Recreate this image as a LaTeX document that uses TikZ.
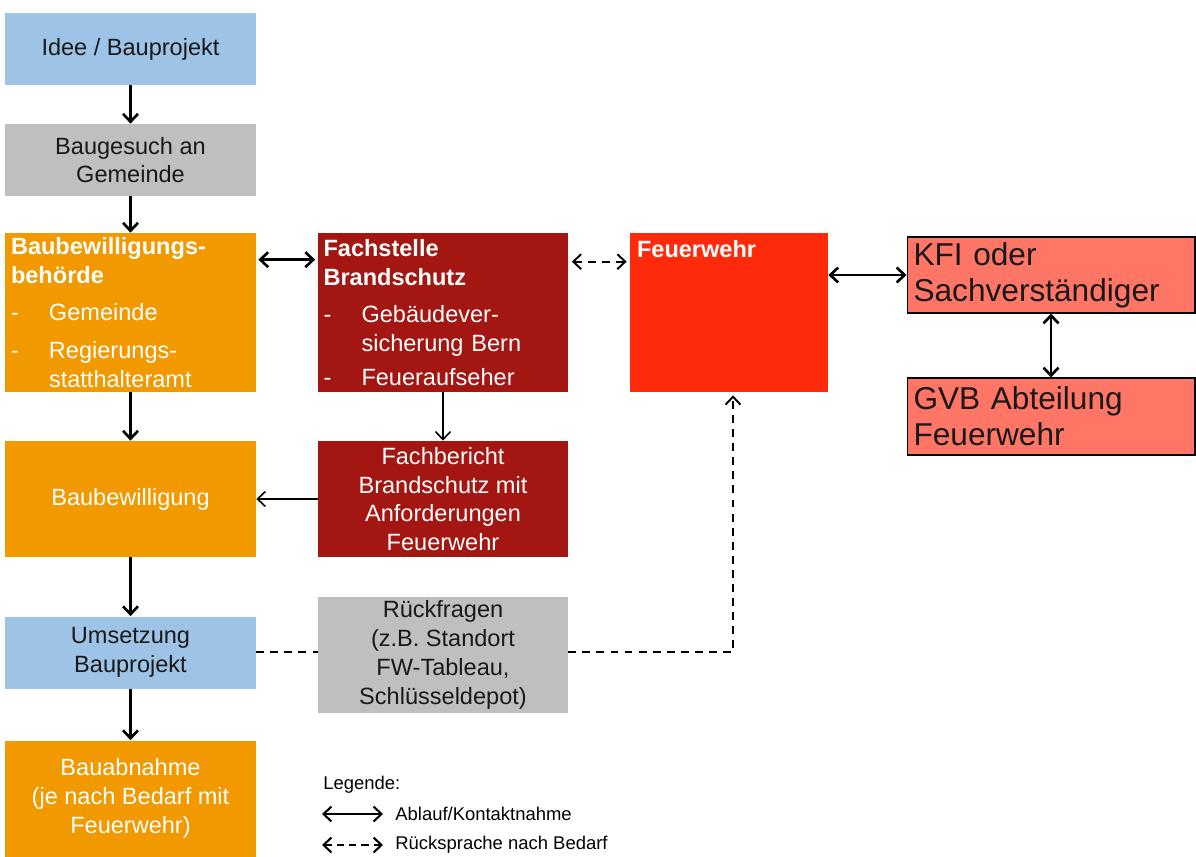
\documentclass[tikz,border=0pt]{standalone}
\usepackage{fontspec}
\setmainfont{Liberation Sans}
\usetikzlibrary{arrows.meta,calc}
\definecolor{hellblau}{HTML}{9DC3E6}
\definecolor{hellgrau}{HTML}{BFBFBF}
\definecolor{orangebox}{HTML}{F29900}
\definecolor{dunkelrot}{HTML}{A31612}
\definecolor{feuerrot}{HTML}{FF2A0C}
\definecolor{lachs}{HTML}{FF7566}
\newcommand{\strich}[1]{\makebox[0.76cm][l]{-}#1}
\begin{document}
\begin{tikzpicture}
      [x=0.02cm, y=-0.02cm,
      >={Straight Barb[length=4.5pt,width=8.5pt]},
      box/.style={rectangle, inner sep=0pt, align=center, text=black!90,
        font=\fontsize{13.4}{16.4}\selectfont},
      weiss/.style={text=white},
      liste/.style={align=left, text width=4.78cm, inner xsep=0.12cm},
      colA/.style={minimum width=5.02cm},
      colB/.style={minimum width=5cm},
      flat/.style={minimum height=1.44cm},
      tall/.style={minimum height=2.32cm},
      block/.style={minimum height=3.18cm},
      gross/.style={box, fill=lachs, draw=black, line width=0.6pt, align=left,
        minimum width=5.76cm, text width=5.5cm, font=\fontsize{18}{20.6}\selectfont},
      flow/.style={line width=1.5pt},
      duenn/.style={line width=0.9pt},
      rueck/.style={line width=1.1pt, dash pattern=on 4.5pt off 3.5pt},
      legende/.style={font=\fontsize{10.5}{12.5}\selectfont, anchor=west, inner sep=0pt},
      ]
      \useasboundingbox (0,0) rectangle (1196,856);
      % linke Spalte
      \node[box, colA, flat, fill=hellblau] (idee) at (130.5,49) {Idee / Bauprojekt};
      \node[box, colA, flat, fill=hellgrau] (gesuch) at (130.5,160) {Baugesuch an\\Gemeinde};
      \node[box, colA, block, fill=orangebox, weiss, liste] (behoerde) at (130.5,312.5)
        {\textbf{Baubewilligungs-}\\\textbf{behörde}\\[5pt]
         \strich{Gemeinde}\\[5pt]
         \strich{Regierungs-}\\\hspace*{0.76cm}statthalteramt};
      \node[box, colA, tall, fill=orangebox, weiss] (bewilligung) at (130.5,499) {Baubewilligung};
      \node[box, colA, flat, fill=hellblau] (umsetzung) at (130.5,652.5) {Umsetzung\\Bauprojekt};
      \node[box, colA, tall, fill=orangebox, weiss] (abnahme) at (130.5,798.5)
        {Bauabnahme\\(je nach Bedarf mit\\Feuerwehr)};
      % mittlere Spalte
      \node[box, colB, block, fill=dunkelrot, weiss, liste] (fachstelle) at (443,312.5)
        {\textbf{Fachstelle}\\\textbf{Brandschutz}\\[5pt]
         \strich{Gebäudever-}\\\hspace*{0.76cm}sicherung Bern\\[3pt]
         \strich{Feueraufseher}};
      \node[box, colB, tall, fill=dunkelrot, weiss] (fachbericht) at (443,499)
        {Fachbericht\\Brandschutz mit\\Anforderungen\\Feuerwehr};
      \node[box, colB, tall, fill=hellgrau] (rueckfragen) at (443,655)
        {Rückfragen\\(z.B. Standort\\FW-Tableau,\\Schlüsseldepot)};
      % Feuerwehr
      \node[box, minimum width=3.96cm, block, fill=feuerrot,
        label={[anchor=north west, inner sep=0pt, text=white,
          font=\fontsize{13.4}{16.4}\selectfont\bfseries, xshift=0.14cm, yshift=-0.14cm]north west:Feuerwehr}]
        (feuerwehr) at (729,312.5) {};
      \node[gross, minimum height=1.52cm] (kfi) at (1051,275) {KFI oder\\Sachverständiger};
      \node[gross, minimum height=1.54cm] (gvb) at (1051,416.5) {GVB Abteilung\\Feuerwehr};
      % Ablauf
      \draw[flow,->] (idee) -- (gesuch);
      \draw[flow,->] (gesuch) -- (behoerde);
      \draw[flow,->] (behoerde) -- (bewilligung);
      \draw[flow,->] (bewilligung) -- (umsetzung);
      \draw[flow,->] (umsetzung) -- (abnahme);
      \draw[flow,<->] ($(behoerde.north east)+(2,27)$) -- ($(fachstelle.north west)+(-2,27)$);
      \draw[rueck,<->] ($(fachstelle.north east)+(3,29)$) -- ($(feuerwehr.north west)+(-3,29)$);
      \draw[flow,<->] (feuerwehr.east |- kfi.west) -- (kfi.west);
      \draw[flow,<->] (kfi) -- (gvb);
      \draw[duenn,->] (fachstelle) -- (fachbericht);
      \draw[duenn,->] (fachbericht) -- (bewilligung);
      \coordinate (knick) at (733,652);
      \draw[rueck] (umsetzung.east |- knick) -- (rueckfragen.west |- knick);
      \draw[rueck,->] (rueckfragen.east |- knick) -- (knick) -- ($(knick |- feuerwehr.south)+(0,3)$);
      % Legende
      \node[legende] (legtitel) at (323,785) {Legende:};
      \coordinate (l1a) at (322,814);
      \coordinate (l1b) at (383,814);
      \coordinate (l2a) at (322,845);
      \coordinate (l2b) at (383,845);
      \draw[line width=1.2pt,<->] (l1a) -- (l1b);
      \draw[line width=1.2pt, dash pattern=on 4pt off 3pt,<->] (l2a) -- (l2b);
      \node[legende] (leg1) at (395,814) {Ablauf/Kontaktnahme};
      \node[legende] (leg2) at (395,845) {Rücksprache nach Bedarf};
\end{tikzpicture}
\end{document}
